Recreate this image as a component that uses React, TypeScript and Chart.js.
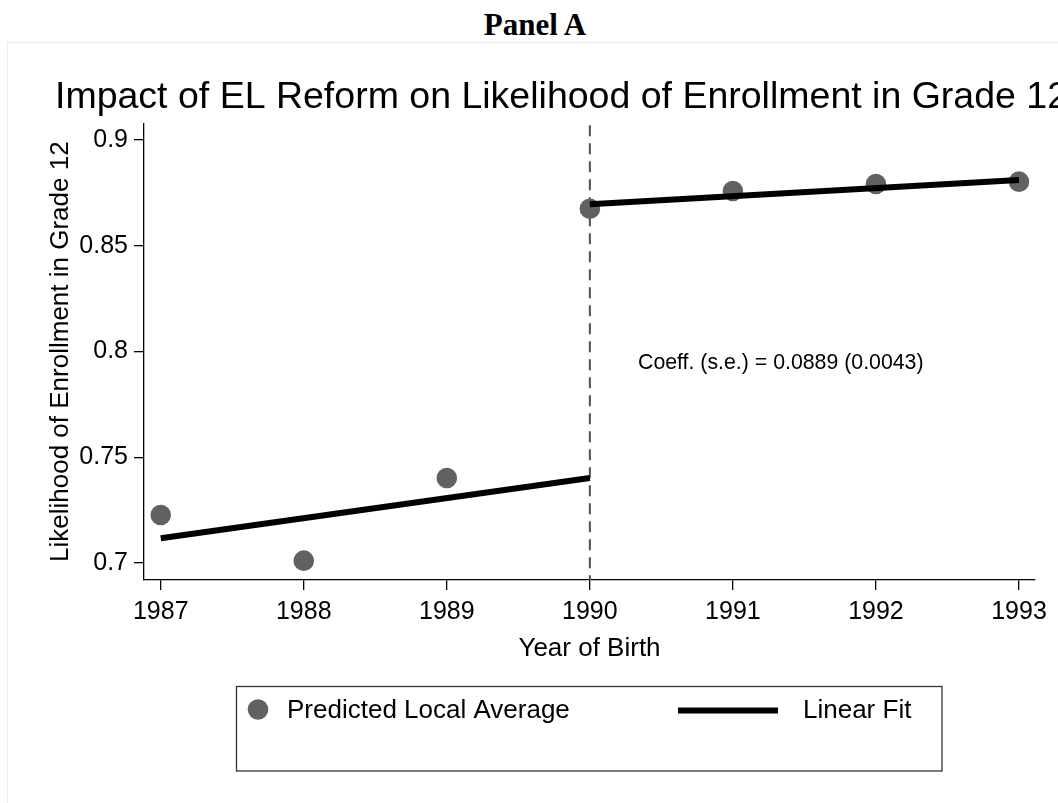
import React, { useEffect, useRef } from "react";
import { Chart, registerables } from "chart.js";

Chart.register(...registerables);

// ---- data ----
const YEARS = [1987, 1988, 1989, 1990, 1991, 1992, 1993];
const LOCAL_AVG = [0.7227, 0.7011, 0.7402, 0.8675, 0.8759, 0.8792, 0.8803];
const FIT_PRE_X = [1987, 1990];
const FIT_PRE_Y = [0.7117, 0.7402];
const FIT_POST_X = [1990, 1993];
const FIT_POST_Y = [0.8696, 0.8811];
const Y_TICKS = [0.7, 0.75, 0.8, 0.85, 0.9];
const Y_TICK_LABELS = ["0.7", "0.75", "0.8", "0.85", "0.9"];
const CUTOFF_YEAR = 1990;
const PANEL_LABEL = "Panel A";
const TITLE = "Impact of EL Reform on Likelihood of Enrollment in Grade 12";
const ANNOTATION = "Coeff. (s.e.) = 0.0889 (0.0043)";
const X_TITLE = "Year of Birth";
const Y_TITLE = "Likelihood of Enrollment in Grade 12";
const SERIES_LABELS = ["Predicted Local Average", "Linear Fit"];

const FONT = "'Liberation Sans', Arial, sans-serif";
const DOT_COLOR = "#616161";

const decorPlugin = {
  id: "decor",
  beforeDatasetsDraw(chart: any) {
    const { ctx, chartArea, scales } = chart;
    const x = scales.x.getPixelForValue(CUTOFF_YEAR);
    ctx.save();
    ctx.strokeStyle = "#505050";
    ctx.lineWidth = 2;
    ctx.setLineDash([11, 7]);
    ctx.beginPath();
    ctx.moveTo(x, chartArea.top + 2);
    ctx.lineTo(x, chartArea.bottom);
    ctx.stroke();
    ctx.restore();
  },
  afterDraw(chart: any) {
    const { ctx } = chart;
    ctx.save();
    // title
    ctx.fillStyle = "#000";
    ctx.font = `37.5px ${FONT}`;
    ctx.textAlign = "left";
    ctx.textBaseline = "alphabetic";
    ctx.fillText(TITLE, 55, 107.5);
    // annotation
    ctx.font = `21.3px ${FONT}`;
    ctx.fillText(ANNOTATION, 638, 368.5);
    // legend box
    ctx.strokeStyle = "#333";
    ctx.lineWidth = 1.3;
    ctx.strokeRect(236.5, 686.5, 705.5, 84.5);
    const ds = chart.data.datasets;
    // marker
    ctx.fillStyle = DOT_COLOR;
    ctx.beginPath();
    ctx.arc(258, 709.5, 10.3, 0, Math.PI * 2);
    ctx.fill();
    ctx.fillStyle = "#000";
    ctx.font = `26px ${FONT}`;
    ctx.textBaseline = "middle";
    ctx.fillText(ds[1].label, 287, 711);
    // line
    ctx.strokeStyle = "#000";
    ctx.lineWidth = 6;
    ctx.beginPath();
    ctx.moveTo(678, 710.5);
    ctx.lineTo(778, 710.5);
    ctx.stroke();
    ctx.fillText(ds[0].label, 803, 711);
    ctx.restore();
  },
};

export default function App() {
  const canvasRef = useRef<HTMLCanvasElement | null>(null);

  useEffect(() => {
    if (!canvasRef.current) return;
    const fitData: any[] = [
      ...FIT_PRE_X.map((x, i) => ({ x, y: FIT_PRE_Y[i] })),
      { x: CUTOFF_YEAR, y: null },
      ...FIT_POST_X.map((x, i) => ({ x, y: FIT_POST_Y[i] })),
    ];
    const chart = new Chart(canvasRef.current, {
      type: "line",
      data: {
        datasets: [
          {
            label: SERIES_LABELS[1],
            data: fitData,
            borderColor: "#000",
            borderWidth: 6,
            pointRadius: 0,
            spanGaps: false,
            fill: false,
            order: 0,
            borderCapStyle: "butt",
          } as any,
          {
            type: "scatter",
            label: SERIES_LABELS[0],
            data: YEARS.map((x, i) => ({ x, y: LOCAL_AVG[i] })),
            backgroundColor: DOT_COLOR,
            borderColor: DOT_COLOR,
            borderWidth: 0,
            pointRadius: 10.3,
            showLine: false,
            order: 1,
          } as any,
        ],
      },
      options: {
        animation: false,
        responsive: false,
        maintainAspectRatio: false,
        events: [],
        layout: { padding: { left: 0, top: 123.3, right: 1100 - 1035, bottom: 803 - 664.6 } },
        plugins: {
          legend: { display: false },
          title: { display: false },
          tooltip: { enabled: false },
        },
        scales: {
          x: {
            type: "linear",
            min: 1986.883,
            max: 1993.112,
            afterBuildTicks: (s: any) => {
              s.ticks = YEARS.map((v) => ({ value: v }));
            },
            afterFit: (s: any) => {
              s.height = 84.6;
            },
            ticks: {
              callback: (v: any) => String(v),
              color: "#000",
              font: { family: FONT, size: 25 },
              padding: 7,
              maxRotation: 0,
              autoSkip: false,
            },
            grid: { drawOnChartArea: false, drawTicks: true, tickLength: 10, color: "#000", lineWidth: 1.3 },
            border: { display: true, color: "#000", width: 1.3 },
            title: {
              display: true,
              text: X_TITLE,
              color: "#000",
              font: { family: FONT, size: 26 },
              padding: { top: 0, bottom: 0 },
            },
          },
          y: {
            type: "linear",
            min: 0.69196,
            max: 0.9079,
            afterBuildTicks: (s: any) => {
              s.ticks = Y_TICKS.map((v) => ({ value: v }));
            },
            afterFit: (s: any) => {
              s.width = 144;
            },
            ticks: {
              callback: (v: any) => {
                const i = Y_TICKS.findIndex((t) => Math.abs(t - v) < 1e-9);
                return i >= 0 ? Y_TICK_LABELS[i] : "";
              },
              color: "#000",
              font: { family: FONT, size: 25 },
              padding: 6,
              autoSkip: false,
            },
            grid: { drawOnChartArea: false, drawTicks: true, tickLength: 10, color: "#000", lineWidth: 1.3 },
            border: { display: true, color: "#000", width: 1.3 },
            title: {
              display: true,
              text: Y_TITLE,
              color: "#000",
              font: { family: FONT, size: 26 },
              padding: { top: 45, bottom: 0 },
            },
          },
        },
      },
      plugins: [decorPlugin],
    });
    return () => chart.destroy();
  }, []);

  return (
    <div
      style={{
        position: "fixed",
        left: 0,
        top: 0,
        width: 1058,
        height: 803,
        overflow: "hidden",
        background: "#fff",
      }}
    >
      <div
        style={{
          position: "absolute",
          left: 0,
          top: 9,
          width: 1070,
          textAlign: "center",
          fontFamily: "'Liberation Serif', 'Times New Roman', serif",
          fontWeight: "bold",
          fontSize: 31,
          lineHeight: "31px",
          color: "#000",
        }}
      >
        {PANEL_LABEL}
      </div>
      <div
        style={{
          position: "absolute",
          left: 7,
          top: 42,
          width: 1200,
          height: 900,
          border: "1.5px solid #ececec",
          boxSizing: "border-box",
        }}
      />
      <canvas
        ref={canvasRef}
        width={1100}
        height={803}
        style={{ position: "absolute", left: 0, top: 0, width: 1100, height: 803, display: "block" }}
      />
    </div>
  );
}
